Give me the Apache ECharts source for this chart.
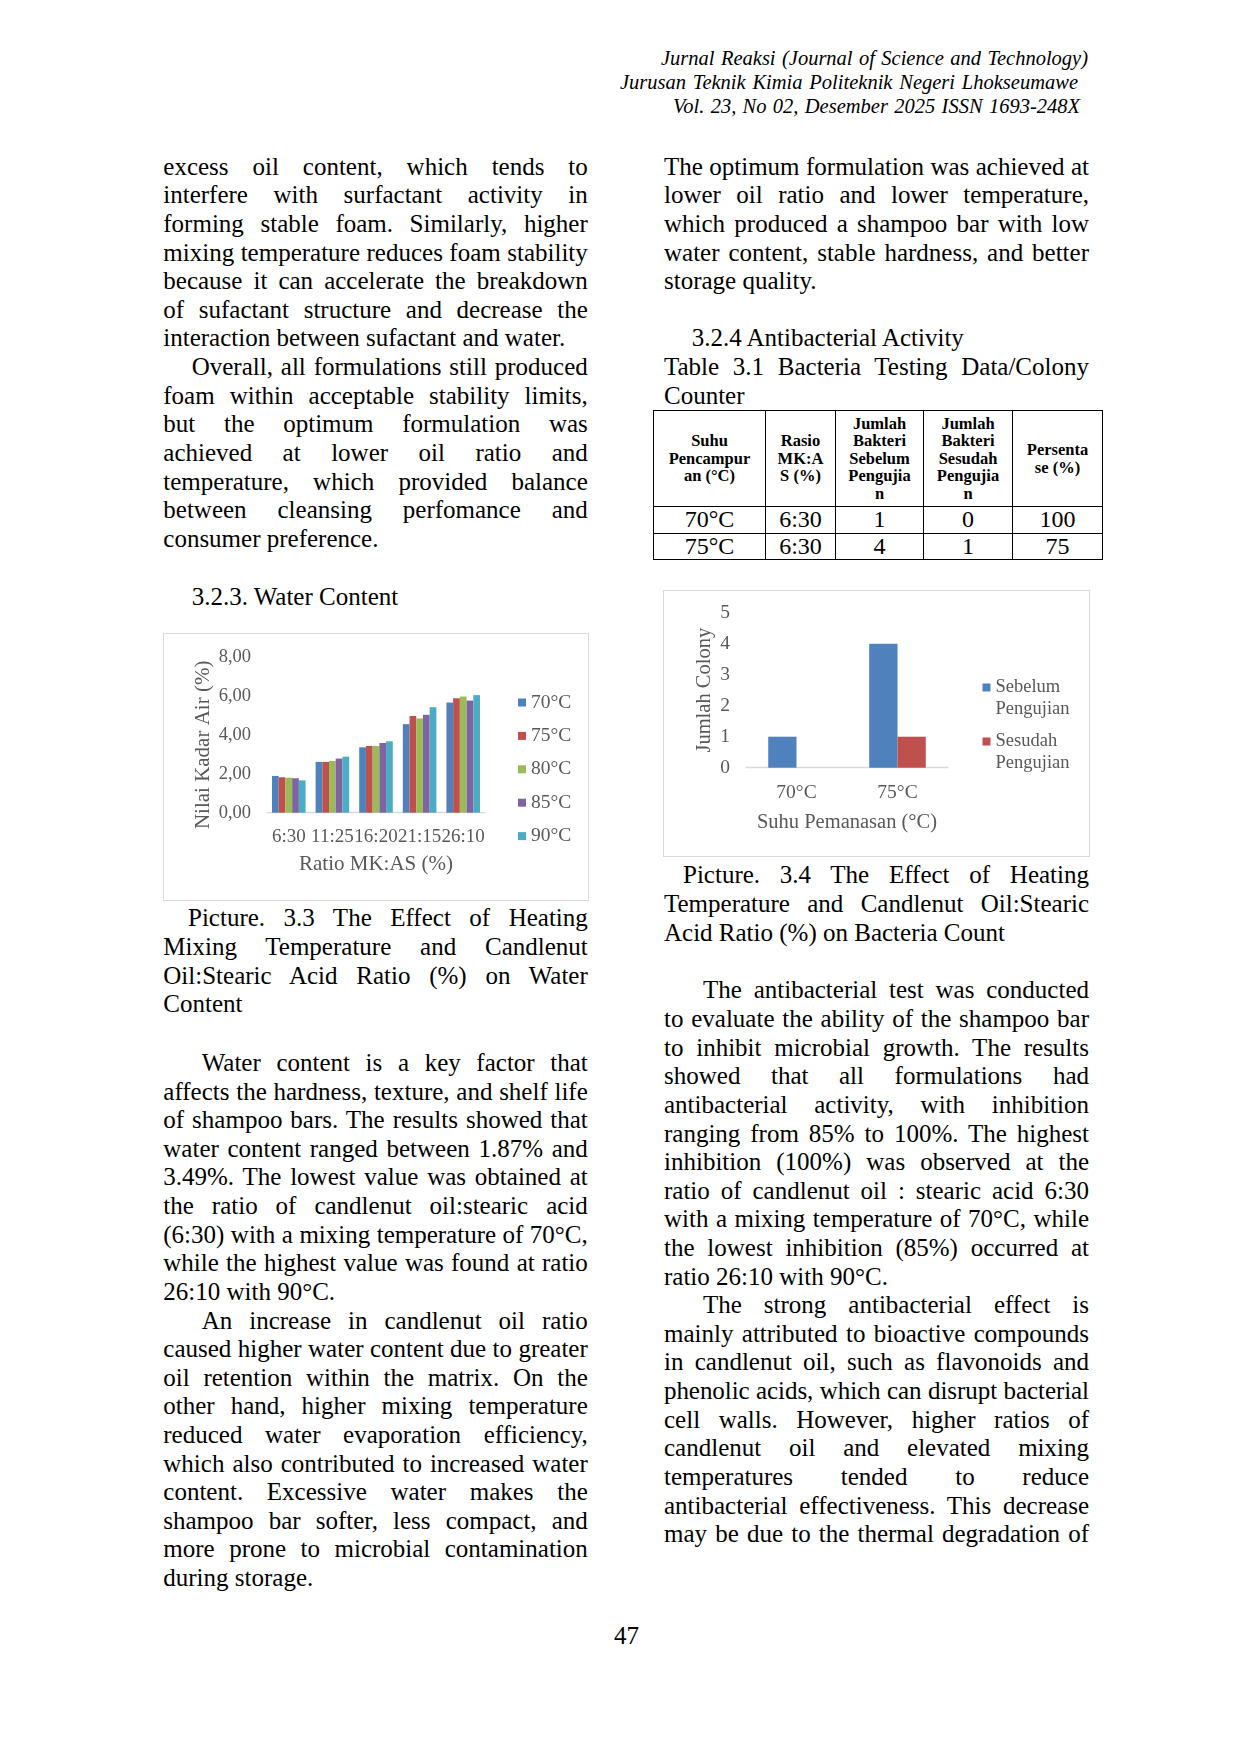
<!DOCTYPE html>
<html><head><meta charset="utf-8">
<script src="https://cdn.jsdelivr.net/npm/echarts@6/dist/echarts.min.js"></script>
<style>
html,body{margin:0;padding:0;background:#fff;}
#page{position:relative;width:1240px;height:1753px;overflow:hidden;font-family:'Liberation Serif','Times New Roman',serif;color:#000;}
.ln{position:absolute;white-space:nowrap;}
.j{text-align:justify;text-align-last:justify;white-space:normal;}
.box{position:absolute;border:1.5px solid #d9d9d9;box-sizing:border-box;}
.chart{position:absolute;}
#tbl{position:absolute;left:653px;top:410px;border-collapse:collapse;table-layout:fixed;border:1.6px solid #000;}
#tbl td{border:1px solid #000;text-align:center;vertical-align:middle;padding:0;}
#tbl tr.h td{font-weight:bold;font-size:16.5px;line-height:17.4px;height:95px;}
#tbl tr.b td{font-size:24px;line-height:25px;height:25.5px;}
</style></head><body><div id="page">
<div class="box" style="left:163px;top:633px;width:426px;height:268px;"></div>
<div class="chart" id="c1" style="left:163px;top:633px;width:426px;height:268px;"></div>
<div class="box" style="left:663px;top:590px;width:427px;height:267px;"></div>
<div class="chart" id="c2" style="left:663px;top:590px;width:427px;height:267px;"></div>
<table id="tbl">
<colgroup><col style="width:112px"><col style="width:70px"><col style="width:88px"><col style="width:89px"><col style="width:90px"></colgroup>
<tr class="h"><td>Suhu<br>Pencampur<br>an (°C)</td><td>Rasio<br>MK:A<br>S (%)</td><td>Jumlah<br>Bakteri<br>Sebelum<br>Pengujia<br>n</td><td>Jumlah<br>Bakteri<br>Sesudah<br>Pengujia<br>n</td><td>Persenta<br>se (%)</td></tr>
<tr class="b"><td>70°C</td><td>6:30</td><td>1</td><td>0</td><td>100</td></tr>
<tr class="b"><td>75°C</td><td>6:30</td><td>4</td><td>1</td><td>75</td></tr>
</table>
</div>
<script>
// ---------- chart data ----------
const ratios = ['6:30', '11:25', '16:20', '21:15', '26:10'];
const temps = ['70°C', '75°C', '80°C', '85°C', '90°C'];
const water70 = [1.89, 2.61, 3.36, 4.55, 5.66];
const water75 = [1.82, 2.61, 3.43, 4.97, 5.88];
const water80 = [1.80, 2.66, 3.43, 4.84, 5.97];
const water85 = [1.77, 2.78, 3.58, 5.03, 5.76];
const water90 = [1.66, 2.88, 3.67, 5.42, 6.04];
const waterSeries = [water70, water75, water80, water85, water90];

const heatTemps = ['70°C', '75°C'];
const colonyNames = ['Sebelum Pengujian', 'Sesudah Pengujian'];
const colonyBefore = [1, 4];
const colonyAfter = [0, 1];

// ---------- page text ----------
const page = document.getElementById('page');
const mctx = document.createElement('canvas').getContext('2d');
function line(txt, x, base, w, fs, o) {
  o = o || {};
  const d = document.createElement('div');
  d.className = 'ln';
  const lh = fs * 1.25;
  d.style.left = x + 'px';
  d.style.top = (base - ((lh - 1.107 * fs) / 2 + 0.891 * fs)) + 'px';
  d.style.fontSize = fs + 'px';
  d.style.lineHeight = lh + 'px';
  if (o.italic) d.style.fontStyle = 'italic';
  mctx.font = (o.italic ? 'italic ' : '') + fs + 'px "Liberation Serif"';
  const nat = mctx.measureText(txt).width;
  if (w) {
    d.style.width = w + 'px';
    if (o.j) {
      d.classList.add('j');
      if (nat > w - 1) d.style.letterSpacing = ((w - 1.5 - nat) / txt.length) + 'px';
    }
  }
  d.textContent = txt;
  page.appendChild(d);
}
// paragraph: array of [text, justify, indent]
function block(lines, x, base0, step, right, fs) {
  lines.forEach((l, i) => {
    const ind = l[2] || 0;
    line(l[0], x + ind, base0 + i * step, right - x - ind, fs, { j: l[1] });
  });
}
const FS = 25, STEP = 28.62;
// header
line('Jurnal Reaksi (Journal of Science and Technology)', 661, 65.5, 427, 20.5, { italic: true, j: true });
line('Jurusan Teknik Kimia Politeknik Negeri Lhokseumawe', 620, 89.5, 458, 20.5, { italic: true, j: true });
line('Vol. 23, No 02, Desember 2025 ISSN 1693-248X', 673, 114, 407, 20.5, { italic: true, j: true });

const L = 163.3, LR = 587.8, R = 664, RR = 1089;
block([
  ['excess oil content, which tends to', 1],
  ['interfere with surfactant activity in', 1],
  ['forming stable foam. Similarly, higher', 1],
  ['mixing temperature reduces foam stability', 1],
  ['because it can accelerate the breakdown', 1],
  ['of sufactant structure and decrease the', 1],
  ['interaction between sufactant and water.', 0],
  ['Overall, all formulations still produced', 1, 28.4],
  ['foam within acceptable stability limits,', 1],
  ['but the optimum formulation was', 1],
  ['achieved at lower oil ratio and', 1],
  ['temperature, which provided balance', 1],
  ['between cleansing perfomance and', 1],
  ['consumer preference.', 0]
], L, 174.8, STEP, LR, FS);
line('3.2.3. Water Content', 191.7, 605.5, 0, FS);
block([
  ['Picture. 3.3 The Effect of Heating', 1, 24.7],
  ['Mixing Temperature and Candlenut', 1],
  ['Oil:Stearic Acid Ratio (%) on Water', 1],
  ['Content', 0]
], L, 926.5, STEP, LR, FS);
block([
  ['Water content is a key factor that', 1, 38.4],
  ['affects the hardness, texture, and shelf life', 1],
  ['of shampoo bars. The results showed that', 1],
  ['water content ranged between 1.87% and', 1],
  ['3.49%. The lowest value was obtained at', 1],
  ['the ratio of candlenut oil:stearic acid', 1],
  ['(6:30) with a mixing temperature of 70°C,', 1],
  ['while the highest value was found at ratio', 1],
  ['26:10 with 90°C.', 0],
  ['An increase in candlenut oil ratio', 1, 38.4],
  ['caused higher water content due to greater', 1],
  ['oil retention within the matrix. On the', 1],
  ['other hand, higher mixing temperature', 1],
  ['reduced water evaporation efficiency,', 1],
  ['which also contributed to increased water', 1],
  ['content. Excessive water makes the', 1],
  ['shampoo bar softer, less compact, and', 1],
  ['more prone to microbial contamination', 1],
  ['during storage.', 0]
], L, 1071, STEP, LR, FS);

block([
  ['The optimum formulation was achieved at', 1],
  ['lower oil ratio and lower temperature,', 1],
  ['which produced a shampoo bar with low', 1],
  ['water content, stable hardness, and better', 1],
  ['storage quality.', 0]
], R, 174.8, STEP, RR, FS);
line('3.2.4 Antibacterial Activity', 691.7, 174.8 + 6 * STEP, 0, FS);
block([
  ['Table 3.1 Bacteria Testing Data/Colony', 1],
  ['Counter', 0]
], R, 174.8 + 7 * STEP, STEP, RR, FS);
block([
  ['Picture. 3.4 The Effect of Heating', 1, 19],
  ['Temperature and Candlenut Oil:Stearic', 1],
  ['Acid Ratio (%) on Bacteria Count', 0]
], R, 883.5, STEP, RR, FS);
block([
  ['The antibacterial test was conducted', 1, 39],
  ['to evaluate the ability of the shampoo bar', 1],
  ['to inhibit microbial growth. The results', 1],
  ['showed that all formulations had', 1],
  ['antibacterial activity, with inhibition', 1],
  ['ranging from 85% to 100%. The highest', 1],
  ['inhibition (100%) was observed at the', 1],
  ['ratio of candlenut oil : stearic acid 6:30', 1],
  ['with a mixing temperature of 70°C, while', 1],
  ['the lowest inhibition (85%) occurred at', 1],
  ['ratio 26:10 with 90°C.', 0],
  ['The strong antibacterial effect is', 1, 39],
  ['mainly attributed to bioactive compounds', 1],
  ['in candlenut oil, such as flavonoids and', 1],
  ['phenolic acids, which can disrupt bacterial', 1],
  ['cell walls. However, higher ratios of', 1],
  ['candlenut oil and elevated mixing', 1],
  ['temperatures tended to reduce', 1],
  ['antibacterial effectiveness. This decrease', 1],
  ['may be due to the thermal degradation of', 1]
], R, 998.5, STEP, RR, FS);
line('47', 614, 1644.5, 0, FS);

// ---------- charts ----------
const gray = '#595959';
const ff = 'Liberation Serif';
const c1 = echarts.init(document.getElementById('c1'));
c1.setOption({
  animation: false,
  color: ['#4F81BD', '#C0504D', '#9BBB59', '#8064A2', '#4BACC6'],
  textStyle: { fontFamily: ff, color: gray },
  grid: { left: 104, top: 24, width: 218, height: 155.7, containLabel: false, outerBoundsMode: 'none' },
  legend: {
    orient: 'vertical', left: 350, top: 54.5, itemWidth: 8, itemHeight: 8, itemGap: 13.4,
    icon: 'rect', data: temps,
    textStyle: { fontFamily: ff, fontSize: 19.5, color: gray, lineHeight: 20 }
  },
  xAxis: {
    type: 'category', data: ratios,
    axisLine: { lineStyle: { color: '#d9d9d9', width: 1.3 } },
    axisTick: { show: false },
    axisLabel: { interval: 0, margin: 15, fontSize: 19, color: gray, fontFamily: ff, hideOverlap: false },
    name: 'Ratio MK:AS (%)', nameLocation: 'middle', nameGap: 41, nameMoveOverlap: false,
    nameTextStyle: { fontSize: 21, color: gray, fontFamily: ff }
  },
  yAxis: {
    type: 'value', min: 0, max: 8, interval: 2,
    axisLine: { show: false }, axisTick: { show: false }, splitLine: { show: false },
    axisLabel: { margin: 16, fontSize: 18.5, color: gray, fontFamily: ff, formatter: v => v.toFixed(2).replace('.', ',') },
    name: 'Nilai Kadar Air (%)', nameLocation: 'middle', nameGap: 53, nameMoveOverlap: false,
    nameTextStyle: { fontSize: 21, color: gray, fontFamily: ff, padding: [0, 20, 0, 0] }
  },
  series: temps.map((t, i) => ({
    type: 'bar', name: t, data: waterSeries[i], barGap: '0%', barCategoryGap: '23%'
  }))
});

const c2 = echarts.init(document.getElementById('c2'));
c2.setOption({
  animation: false,
  color: ['#4F81BD', '#C0504D'],
  textStyle: { fontFamily: ff, color: gray },
  grid: { left: 83, top: 22.7, width: 202, height: 155, containLabel: false, outerBoundsMode: 'none' },
  legend: {
    orient: 'vertical', left: 314.5, top: 81.5, itemWidth: 8, itemHeight: 29, itemGap: 11,
    icon: 'path://M0,0L8,0L8,8L0,8Z M0,0L0,29',
    data: colonyNames,
    formatter: n => n.replace(' ', '\n'),
    textStyle: { fontFamily: ff, fontSize: 18.5, color: gray, lineHeight: 21.5 }
  },
  xAxis: {
    type: 'category', data: heatTemps,
    axisLine: { lineStyle: { color: '#d9d9d9', width: 1.3 } },
    axisTick: { show: false },
    axisLabel: { interval: 0, margin: 15, fontSize: 19.5, color: gray, fontFamily: ff },
    name: 'Suhu Pemanasan (°C)', nameLocation: 'middle', nameGap: 44, nameMoveOverlap: false,
    nameTextStyle: { fontSize: 20.5, color: gray, fontFamily: ff }
  },
  yAxis: {
    type: 'value', min: 0, max: 5, interval: 1,
    axisLine: { show: false }, axisTick: { show: false }, splitLine: { show: false },
    axisLabel: { margin: 16, fontSize: 19.5, color: gray, fontFamily: ff },
    name: 'Jumlah Colony', nameLocation: 'middle', nameGap: 30.5, nameMoveOverlap: false,
    nameTextStyle: { fontSize: 20.5, color: gray, fontFamily: ff }
  },
  series: [
    { type: 'bar', name: colonyNames[0], data: colonyBefore, barGap: '0%', barCategoryGap: '44%' },
    { type: 'bar', name: colonyNames[1], data: colonyAfter, barGap: '0%', barCategoryGap: '44%' }
  ]
});
</script>
</body></html>
